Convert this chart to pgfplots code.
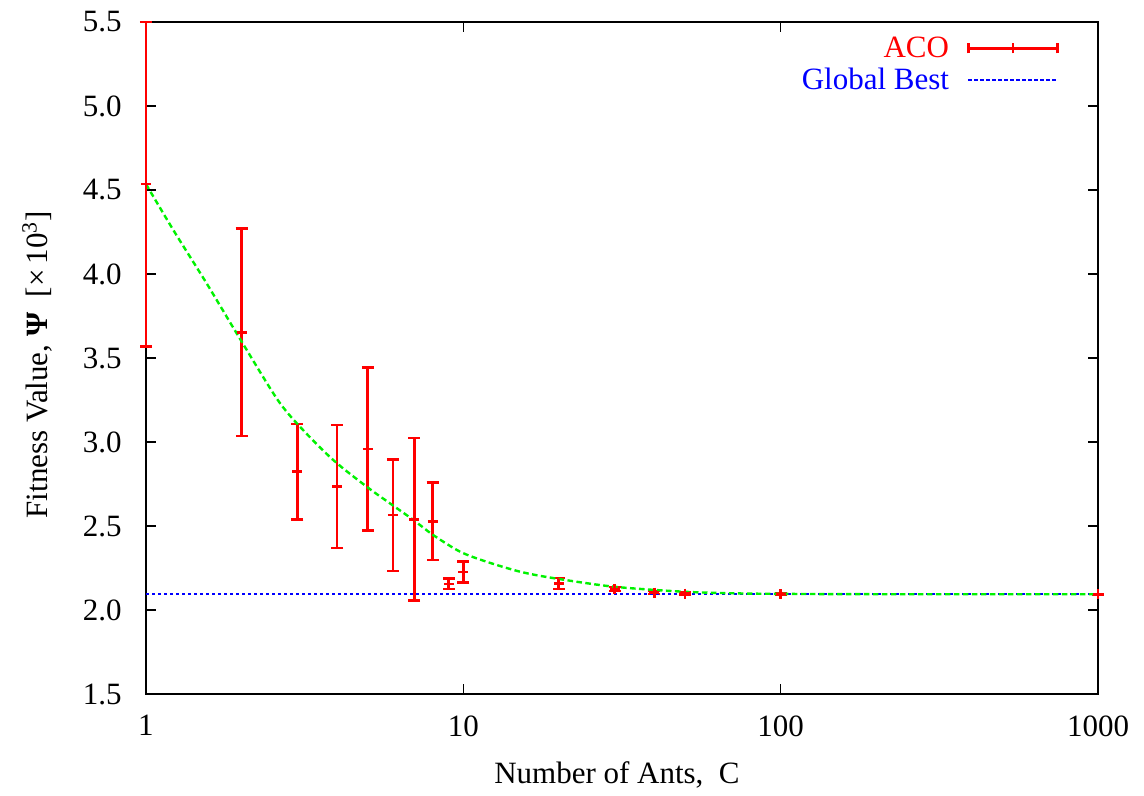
\documentclass[border=0pt]{standalone}
\usepackage{pgfplots}
\pgfplotsset{compat=1.18}
\usepackage{fontspec}
\setmainfont{Liberation Serif}
\definecolor{gpgreen}{rgb}{0,0.95,0}
\begin{document}
\begin{tikzpicture}
\useasboundingbox (-73pt,-51pt) rectangle (499pt,347pt);
\begin{axis}[
  at={(0,0)}, anchor=south west,
  scale only axis, width=476pt, height=336pt,
  xmode=log, log basis x=10,
  xmin=1, xmax=1000, ymin=1.5, ymax=5.5,
  xtick={1,10,100,1000}, xticklabels={1,10,100,1000},
  ytick={1.5,2.0,2.5,3.0,3.5,4.0,4.5,5.0,5.5},
  tick align=inside,
  major tick length=5pt, minor tick length=2.5pt,
  axis line style={line width=0.6pt},
  every tick/.style={line width=0.6pt, black},
  font=\fontsize{15.5}{18}\selectfont,
  yticklabel style={/pgf/number format/fixed, /pgf/number format/fixed zerofill, /pgf/number format/precision=1, /pgf/number format/assume math mode=true,
    anchor=east, inner sep=0pt, xshift=-12pt},
  xticklabel style={anchor=north, inner sep=0pt, yshift=-10.5pt},
  xlabel={Number of Ants,\ \ C},
  ylabel={Fitness Value, \textbf{Ψ}\ \ [×\,10\textsuperscript{3}]},
  xlabel style={at={(axis description cs:0.5,0)}, anchor=base, yshift=-45pt, xshift=-2.5pt},
  ylabel style={at={(axis description cs:-0.1145,0.49)}, anchor=center},
  clip=false,
  legend cell align=right,
  legend plot pos=right,
  legend style={at={(rel axis cs:1,1)}, anchor=north east, xshift=-19.5pt, yshift=-5.5pt,
    draw=none, fill=none, inner sep=0pt, row sep=1pt, column sep=8pt,
    nodes={text height=11pt, text depth=2pt, inner sep=1pt},
    font=\fontsize{15.5}{18}\selectfont},
]
\addplot[red, line width=1.4pt, only marks, mark=+, mark size=2.5pt,
  mark options={line width=1.3pt, solid},
  legend image code/.code={\draw[red, line width=1.3pt] (0pt,0pt) -- (44.5pt,0pt)
     (0pt,-2.5pt) -- (0pt,2.5pt) (22.25pt,-2.5pt) -- (22.25pt,2.5pt) (44.5pt,-2.5pt) -- (44.5pt,2.5pt);},
  error bars/.cd, y dir=both, y explicit,
  error bar style={line width=1.4pt, red, solid},
  error mark options={rotate=90, mark size=3pt, line width=1.3pt, red},
  ]
  table[x index=0, y index=1, y error index=2] {
x y e
1 4.535 0.965
2 3.653 0.618
3 2.823 0.285
4 2.734 0.366
5 2.958 0.486
6 2.565 0.332
7 2.540 0.484
8 2.528 0.230
9 2.155 0.031
10 2.226 0.063
20 2.157 0.033
30 2.125 0.012
40 2.104 0.008
50 2.097 0.006
100 2.095 0.004
1000 2.094 0.0
};
\addlegendentry{\textcolor{red}{ACO}}
\addplot[blue, line width=0.9pt, dash pattern=on 1.6pt off 1.4pt,
  legend image code/.code={\draw[blue, line width=0.9pt, dash pattern=on 1.6pt off 1.4pt] (0pt,0pt) -- (44.5pt,0pt);}]
  coordinates {(1,2.094) (1000,2.094)};
\addlegendentry{\textcolor{blue}{Global Best}}
\addplot[gpgreen, line width=1.2pt, dash pattern=on 2.8pt off 1.7pt, smooth, forget plot]
  coordinates {
(1,4.535) (1.219,4.262) (1.553,3.944) (1.931,3.647) (2.58,3.26) (3.06,3.09)
(3.89,2.893) (4.96,2.734) (5.87,2.635) (6.96,2.536) (8.04,2.446) (9.77,2.347)
(11.85,2.287) (15.1,2.228) (19.2,2.19) (29.7,2.139) (49.2,2.109) (72.7,2.099)
(100,2.096) (200,2.094) (1000,2.094)
};
\end{axis}
\end{tikzpicture}
\end{document}
